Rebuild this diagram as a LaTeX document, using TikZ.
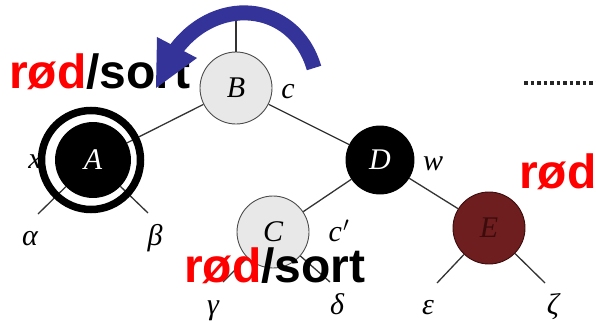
\documentclass[tikz,border=0pt]{standalone}
\usepackage{fontspec}
\setmainfont{Liberation Serif}
\setsansfont{Liberation Sans}
\definecolor{arrowblue}{RGB}{51,51,153}
\definecolor{ered}{RGB}{110,30,30}
\definecolor{eredline}{RGB}{60,12,12}
\definecolor{rodred}{RGB}{255,0,0}
\begin{document}
\begin{tikzpicture}[x=1pt,y=-1pt,
  treenode/.style={circle, minimum size=72pt, inner sep=0pt, line width=0.9pt,
    font=\fontsize{30}{30}\selectfont\itshape},
  lightnode/.style={treenode, draw=black!70, fill=black!9},
  blacknode/.style={treenode, draw=black, fill=black, text=white},
  rednode/.style={treenode, draw=eredline, fill=ered, text=eredline},
  edge/.style={draw=black!80, line width=1.3pt},
  lbl/.style={inner sep=0pt, anchor=base, font=\fontsize{30}{30}\selectfont\itshape},
  bigtxt/.style={inner sep=0pt, anchor=base west, font=\fontsize{48}{48}\selectfont\sffamily\bfseries}]
\useasboundingbox (0,0) rectangle (596,321);

% nodes
\node[lightnode] (B) at (236,88) {B};
\node[blacknode, minimum size=75pt] (A) at (93,160) {A};
\node[blacknode, minimum size=68pt] (D) at (380,160) {D};
\node[lightnode] (C) at (273,232) {C};
\node[rednode] (E) at (489,228) {E};

% free ends
\coordinate (Btop) at (236,20);
\coordinate (Aa) at (38,214);
\coordinate (Ab) at (148,213);
\coordinate (Cg) at (223,282);
\coordinate (Cd) at (330,282);
\coordinate (Ee) at (437,283);
\coordinate (Ez) at (545,283);

% edges
\draw[edge] (B) -- (Btop);
\draw[edge] (B) -- (A);
\draw[edge] (B) -- (D);
\draw[edge] (D) -- (C);
\draw[edge] (D) -- (E);
\draw[edge] (A) -- (Aa);
\draw[edge] (A) -- (Ab);
\draw[edge] (C) -- (Cg);
\draw[edge] (C) -- (Cd);
\draw[edge] (E) -- (Ee);
\draw[edge] (E) -- (Ez);

% labels
\node[lbl] (lc) at (288,98) {c};
\node[lbl] (lw) at (433,170) {w};
\node[lbl] (lcp) at (339,241) {c\kern1pt$'$};
\node[lbl] (lx) at (35,168) {x};
\node[lbl] (lal) at (30,245) {α};
\node[lbl] (lbe) at (155,245) {β};
\node[lbl] (lga) at (213,314) {γ};
\node[lbl] (lde) at (337,314) {δ};
\node[lbl] (lep) at (428,314) {ε};
\node[lbl] (lze) at (553,314) {ζ};

% ring around A
\node[circle, draw=black, line width=7.5pt, minimum size=99pt, inner sep=0pt] (ring) at (91,160) {};

% dotted line
\coordinate (dl) at (524,83);
\coordinate (dr) at (596,83);
\draw[black!85, line width=3.5pt, dash pattern=on 3.5pt off 3pt] (dl) -- (dr);

% big texts
\node[bigtxt] (t1) at (9,88) {{\color{rodred}rød}/sort};
\node[bigtxt] (t2) at (184,282) {{\color{rodred}rød}/sort};
\node[bigtxt, text=rodred] (t3) at (519,188) {rød};

% rotation arrow
\coordinate (as) at (314,68);
\coordinate (ae) at (172,55);
\coordinate (h1) at (157,37);
\coordinate (h2) at (197,58);
\coordinate (h3) at (156,88);
\draw[arrowblue, line width=15pt] (as) .. controls (294,0) and (212,-6) .. (ae);
\fill[arrowblue] (h1) -- (h2) -- (h3) -- cycle;
\end{tikzpicture}
\end{document}
